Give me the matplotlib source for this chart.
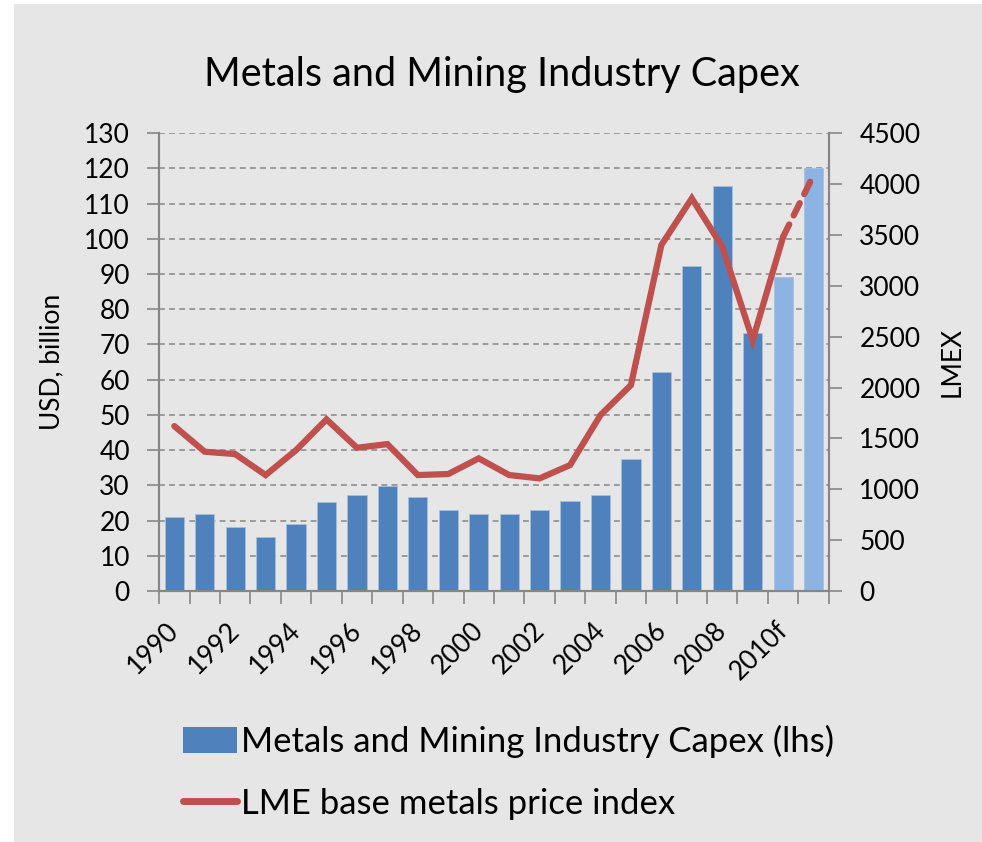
import matplotlib
matplotlib.use("Agg")
import matplotlib.pyplot as plt
import matplotlib.transforms as mtransforms
import numpy as np
from matplotlib.lines import Line2D
from matplotlib.patches import Patch, Rectangle

plt.rcParams["font.family"] = ["Lato", "DejaVu Sans"]

# --- data ------------------------------------------------------------------
years = ["1990", "1991", "1992", "1993", "1994", "1995", "1996", "1997",
         "1998", "1999", "2000", "2001", "2002", "2003", "2004", "2005",
         "2006", "2007", "2008", "2009", "2010f", "2011f"]
capex = [21.1, 22.0, 18.3, 15.4, 19.0, 25.3, 27.2, 29.9, 26.8, 23.0, 21.9,
         22.0, 22.9, 25.5, 27.4, 37.5, 62.2, 92.3, 114.9, 73.2, 89.1, 120.2]
lmex = [1621, 1369, 1346, 1140, 1385, 1687, 1408, 1444, 1140, 1150, 1304,
        1140, 1107, 1238, 1729, 2024, 3400, 3858, 3383, 2466, 3481, 4087]
n_forecast = 2

BG = "#E6E6E6"
BLUE = "#4F81BD"
LIGHT = "#8DB3E2"
RED = "#C0504D"
AXIS = "#868686"

fig = plt.figure(figsize=(9.82, 8.42), dpi=100, facecolor=BG)
# thin white strips on the left and top edges of the reference
fig.add_artist(Rectangle((0, 0), 14 / 982, 1, transform=fig.transFigure,
                         facecolor="white", edgecolor="none", zorder=-10))
fig.add_artist(Rectangle((0, 1 - 4 / 842), 1, 4 / 842, transform=fig.transFigure,
                         facecolor="white", edgecolor="none", zorder=-10))

ax = fig.add_axes([0.162, 0.298, 0.682, 0.544], facecolor=BG)
ax2 = ax.twinx()

x = np.arange(len(years))
colors = [BLUE] * (len(years) - n_forecast) + [LIGHT] * n_forecast
ax.bar(x, capex, width=0.63, color=colors, edgecolor="#A7BFDE", linewidth=0.6, zorder=3)

# line: solid for actuals, dashed to forecast
split = len(years) - n_forecast + 1
ax2.plot(x[:split], lmex[:split], color=RED, lw=4.5, solid_capstyle="round",
         solid_joinstyle="miter", zorder=4)
ax2.plot(x[split - 1:], lmex[split - 1:], color=RED, lw=4.5, ls=(0, (2.2, 1.6)),
         dash_capstyle="round", zorder=4)

ax.set_xlim(-0.5, len(years) - 0.5)
ax.set_ylim(0, 130)
ax.set_yticks(range(0, 131, 10))
ax2.set_ylim(0, 4500)
ax2.set_yticks(range(0, 4501, 500))

ax.yaxis.grid(True, color="#9A9A9A", ls=(0, (3, 2.2)), lw=1.4, zorder=0)
ax.set_axisbelow(True)

# category boundary ticks with labels every other year
ax.set_xticks(np.arange(-0.5, len(years), 1.0))
ax.set_xticklabels([])
ax.set_xticks(x[::2], minor=True)
ax.set_xticklabels(years[::2], minor=True, rotation=45, ha="right",
                   rotation_mode="anchor", fontsize=19)
ax.tick_params(axis="x", which="major", length=9, color=AXIS, width=1.2)
ax.tick_params(axis="x", which="minor", length=0, pad=19)

ax.tick_params(axis="y", labelsize=19, length=9, color=AXIS, width=1.2, pad=12)
ax2.tick_params(axis="y", labelsize=19, length=9, color=AXIS, width=1.2, pad=13)

# nudge the rotated year labels a little to the left, as in the reference
shift = mtransforms.ScaledTranslation(-8 / 100, 0, fig.dpi_scale_trans)
for lab in ax.get_xticklabels(minor=True):
    lab.set_transform(lab.get_transform() + shift)

for a in (ax, ax2):
    a.spines["top"].set_visible(False)
    for s in ("left", "right", "bottom"):
        a.spines[s].set_color(AXIS)
        a.spines[s].set_linewidth(1.5)

ax.set_ylabel("USD, billion", fontsize=19, labelpad=14)
ax2.set_ylabel("LMEX", fontsize=19, labelpad=14)

fig.text(0.511, 0.912, "Metals and Mining Industry Capex", ha="center",
         va="center", fontsize=28.5)

handles = [Patch(facecolor=BLUE, edgecolor="none"),
           Line2D([0], [0], color=RED, lw=5, solid_capstyle="round")]
labels = ["Metals and Mining Industry Capex (lhs)", "LME base metals price index"]
fig.legend(handles, labels, loc="upper left", bbox_to_anchor=(0.155, 0.176),
           frameon=False, fontsize=25, handlelength=1.55, handletextpad=0.12,
           labelspacing=0.85, handleheight=0.75)

fig.savefig("out.png", dpi=100, facecolor=BG)
